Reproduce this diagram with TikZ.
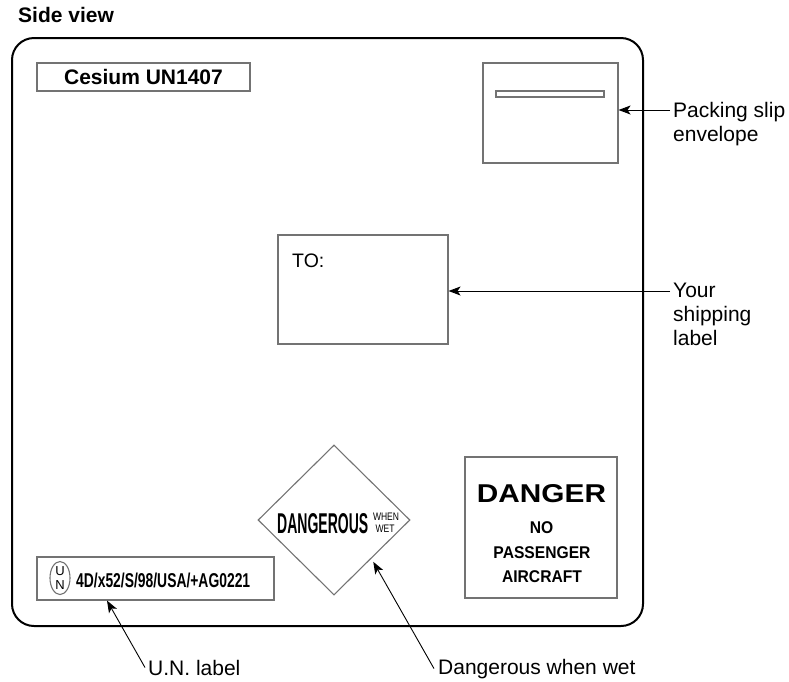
\documentclass[tikz,border=0pt]{standalone}
\usepackage{fontspec}
\setmainfont{Liberation Sans}
\usepackage{graphicx}
\usetikzlibrary{shapes.geometric,arrows.meta,calc}
\definecolor{boxgray}{gray}{0.45}
\begin{document}
\begin{tikzpicture}[x=1pt,y=-1pt,
  lbl/.style={font=\fontsize{21}{24}\selectfont, inner sep=0pt, align=left},
  gbox/.style={draw=boxgray, line width=1.1pt, inner sep=0pt},
  arr/.style={-{Stealth[length=12pt,width=9pt,inset=3pt]}, line width=0.9pt},
  txt/.style={inner sep=0pt}
]
\useasboundingbox (0,0) rectangle (789,681);

\node[txt, anchor=base west, font=\fontsize{21}{24}\selectfont\bfseries] (title) at (18,22) {Side view};
\node[draw, line width=2pt, rounded corners=22pt, minimum width=631pt, minimum height=588pt, inner sep=0pt] (case) at (327.5,332) {};

% Cesium label
\node[gbox, minimum width=213pt, minimum height=28pt, font=\fontsize{21}{24}\selectfont\bfseries] (cesium) at (143.5,77) {Cesium UN1407};

% packing slip envelope
\node[gbox, minimum width=135pt, minimum height=100pt] (env) at (550.5,113) {};
\node[gbox, minimum width=108pt, minimum height=6pt] (slot) at (550,94) {};
\node[lbl, anchor=north west] (packlbl) at (673,102) {Packing slip\\envelope};
\coordinate (ptail) at (670,110);
\draw[arr] (ptail) -- (env.east |- ptail);

% shipping label
\node[gbox, minimum width=170pt, minimum height=109pt] (tobox) at (363,289.5) {};
\node[txt, anchor=base west, font=\fontsize{19.5}{22}\selectfont] (to) at (292,267) {TO:};
\node[lbl, anchor=north west] (shiplbl) at (673,283) {Your\\shipping\\label};
\coordinate (stail) at (670,291);
\draw[arr] (stail) -- (tobox.east |- stail);

% dangerous when wet diamond
\node[diamond, gbox, minimum width=152pt, minimum height=150pt] (dia) at (334,520) {};
\node[txt, anchor=base west] (dang) at (277,533) {\resizebox{91pt}{20pt}{\bfseries DANGEROUS}};
\node[txt, anchor=base] (when) at (386,520.5) {\resizebox{26pt}{7.5pt}{WHEN}};
\node[txt, anchor=base] (wet) at (385,532) {\resizebox{19pt}{7.5pt}{WET}};

% danger box
\node[gbox, minimum width=152pt, minimum height=141pt] (dbox) at (541,527.5) {};
\node[txt, anchor=base] (danger) at (541.5,502) {\resizebox{129pt}{18pt}{\bfseries DANGER}};
\node[txt, anchor=base, font=\fontsize{17}{20}\selectfont\bfseries] (no) at (541.5,533) {\scalebox{0.92}[1]{NO}};
\node[txt, anchor=base, font=\fontsize{17}{20}\selectfont\bfseries] (pass) at (542,558) {\scalebox{0.92}[1]{PASSENGER}};
\node[txt, anchor=base, font=\fontsize{17}{20}\selectfont\bfseries] (air) at (542,582) {\scalebox{0.92}[1]{AIRCRAFT}};

% UN label
\node[gbox, minimum width=237pt, minimum height=43pt] (unbox) at (155.5,578.5) {};
\node[ellipse, gbox, minimum width=20pt, minimum height=33pt] (oval) at (60,578) {};
\node[txt, anchor=base, font=\fontsize{13}{13}\selectfont] (u) at (60,575.5) {U};
\node[txt, anchor=base, font=\fontsize{13}{13}\selectfont] (n) at (60,589.5) {N};
\node[txt, anchor=base west] (uncode) at (76,587) {\resizebox{174pt}{14.5pt}{\bfseries 4D/x52/S/98/USA/+AG0221}};

% bottom labels
\node[lbl, anchor=base west] (unlbl) at (148,675) {U.N. label};
\node[lbl, anchor=base west] (dwlbl) at (438,674) {Dangerous when wet};
\draw[arr] ([xshift=-3pt]unlbl.west) -- ([xshift=-48.5pt]unbox.south);
\draw[arr] ([xshift=-4pt]dwlbl.west) -- ($(dia.east)!0.5!(dia.south)+(1,4)$);
\end{tikzpicture}
\end{document}
